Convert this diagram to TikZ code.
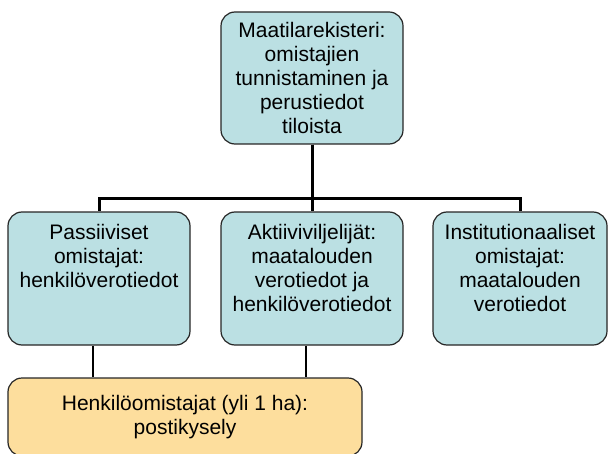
\documentclass[tikz,border=0pt]{standalone}
\usepackage{fontspec}
\setmainfont{Liberation Sans}
\definecolor{paleblue}{RGB}{187,224,227}
\definecolor{paleorange}{RGB}{253,222,157}
\newcommand{\rowtext}[2]{\parbox[c][133pt][t]{#1}{\centering\vspace{12pt}#2}}
\begin{document}
\begin{tikzpicture}
[x=1pt,y=1pt,
  boxdecorate/.style={shape=rectangle,rounded corners=14pt,draw=black!85,
    line width=1.2pt,inner sep=0pt,font=\fontsize{21}{24}\selectfont},
  blueboxdecorate/.style={boxdecorate,fill=paleblue},
  linedecorate/.style={-,line width=3pt},
  thinlinedecorate/.style={-,line width=2pt}]
\useasboundingbox (0,0) rectangle (609,-454);
%% nodes or boxes
\node (register) at (312,-78) [blueboxdecorate,minimum width=182pt,
  minimum height=132pt,align=center]
  {Maatilarekisteri:\\omistajien\\tunnistaminen ja\\perustiedot\\tiloista};
\foreach \nodename/\x/\width/\nodetext in {
  passive/99/182/{Passiiviset\\omistajat:\\henkilöverotiedot},
  active/312/182/{Aktiiviviljelijät:\\maatalouden\\verotiedot ja\\henkilöverotiedot},
  institution/520/174/{Institutionaaliset\\omistajat:\\maatalouden\\verotiedot}} {
  \node (\nodename) at (\x,-278.5) [blueboxdecorate,minimum width=\width pt,
    minimum height=133pt] {\rowtext{\width pt}{\nodetext}};
}
\node (postal) at (185,-417) [boxdecorate,fill=paleorange,minimum width=354pt,
  minimum height=78pt,align=center] {Henkilöomistajat (yli 1 ha):\\postikysely};
%% edges or lines
\path
\foreach \endnode in {passive, active, institution} {
  (register.south) edge[linedecorate,to path={-- ++(0,-54) -| (\tikztotarget)}] (\endnode.north)
};
\path
\foreach \startnode in {passive, active} {
  ([xshift=-6]\startnode.south) edge[thinlinedecorate] ([xshift=-6]\startnode.south |- postal.north)
};
\end{tikzpicture}
\end{document}
